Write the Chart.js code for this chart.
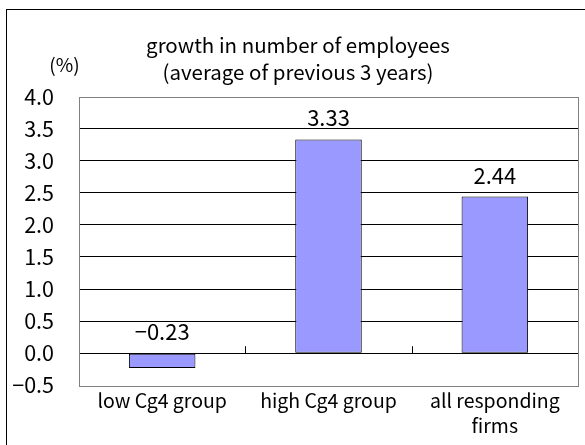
<!DOCTYPE html>
<html>
<head>
<meta charset="utf-8">
<script src="https://cdn.jsdelivr.net/npm/chart.js@4.4.1/dist/chart.umd.min.js"></script>
<style>
  html, body { margin: 0; padding: 0; background: #ffffff; }
  #wrap { width: 585px; height: 445px; }
</style>
</head>
<body>
<div id="wrap"><canvas id="mycanvas" width="585" height="445"></canvas></div>
<script>
// categories and values
var categories = ['low Cg4 group', 'high Cg4 group', ['all responding', 'firms']];
var growthValues = [-0.23, 3.33, 2.44];
var titleLines = ['growth in number of employees', '(average of previous 3 years)'];
var unitLabel = '(%)';
var yMin = -0.5;
var yMax = 4.0;
var yStep = 0.5;

var FONT = '"Noto Sans CJK JP", "Noto Sans", sans-serif';

// minus sign like the original sheet
function fmt(v, digits) {
  var s = Math.abs(v).toFixed(digits);
  return v < 0 ? '\u2212' + s : s;
}

// outer frame, title, plot frame, "(%)" and the value labels
var decorations = {
  id: 'decorations',
  beforeDraw: function(chart) {
    var ctx = chart.ctx;
    ctx.save();
    ctx.fillStyle = '#ffffff';
    ctx.fillRect(0, 0, chart.width, chart.height);
    ctx.strokeStyle = '#000000';
    ctx.lineWidth = 1;
    ctx.strokeRect(6.5, 9.5, chart.width + 20, chart.height + 20);
    ctx.restore();
  },
  afterDatasetsDraw: function(chart) {
    var ctx = chart.ctx;
    var area = chart.chartArea;
    var xs = chart.scales.x;
    var ys = chart.scales.y;
    var y0 = ys.getPixelForValue(0);
    ctx.save();

    // plot frame
    ctx.strokeStyle = '#808080';
    ctx.lineWidth = 1;
    ctx.strokeRect(Math.round(area.left) + 0.5, Math.round(area.top) + 0.5,
      Math.round(area.right - area.left), Math.round(area.bottom - area.top));

    // category tick marks on the zero line
    ctx.strokeStyle = '#000000';
    ctx.beginPath();
    for (var i = 0; i < categories.length - 1; i++) {
      var bx = Math.round((xs.getPixelForValue(i) + xs.getPixelForValue(i + 1)) / 2) + 0.5;
      ctx.moveTo(bx, y0);
      ctx.lineTo(bx, y0 - 7);
    }
    ctx.stroke();

    // value labels
    ctx.fillStyle = '#000000';
    ctx.font = '22px ' + FONT;
    ctx.textAlign = 'center';
    ctx.textBaseline = 'alphabetic';
    var meta = chart.getDatasetMeta(0);
    meta.data.forEach(function(bar, idx) {
      var v = growthValues[idx];
      var top = ys.getPixelForValue(Math.max(v, 0));
      ctx.fillText(fmt(v, 2), bar.x, top - 13);
    });

    // title
    ctx.font = '20.5px ' + FONT;
    ctx.textBaseline = 'middle';
    ctx.fillText(titleLines[0], 298, 45);
    ctx.fillText(titleLines[1], 298, 72);

    // unit label
    ctx.font = '19px ' + FONT;
    ctx.fillText(unitLabel, 64.5, 65);
    ctx.restore();
  }
};

var chartdata = {
  labels: categories,
  datasets: [
    {
      label: 'growth',
      data: growthValues,
      backgroundColor: '#9999ff',
      borderColor: '#000000',
      borderWidth: 1,
      borderSkipped: false,
      barPercentage: 0.4,
      categoryPercentage: 1.0
    }
  ]
};

var ctx = document.getElementById('mycanvas');

var BarGraph = new Chart(ctx, {
  type: 'bar',
  data: chartdata,
  plugins: [decorations],
  options: {
    responsive: false,
    animation: false,
    devicePixelRatio: 1,
    layout: {
      padding: { left: 0, right: 7, top: 96.5, bottom: 0 }
    },
    scales: {
      x: {
        grid: { display: false, drawTicks: false },
        border: { display: false },
        ticks: {
          color: '#000000',
          padding: 3,
          maxRotation: 0,
          autoSkip: false,
          font: { family: FONT, size: 19.5, lineHeight: 1.28 }
        },
        afterFit: function(scale) { scale.height = 59.7; }
      },
      y: {
        min: yMin,
        max: yMax,
        grid: {
          drawTicks: false,
          color: function(c) {
            var v = c.tick ? c.tick.value : null;
            return (v === yMin || v === yMax) ? 'rgba(0,0,0,0)' : '#000000';
          }
        },
        border: { display: false },
        ticks: {
          stepSize: yStep,
          color: '#000000',
          padding: 25,
          font: { family: FONT, size: 21.5 },
          callback: function(value) { return fmt(value, 1); }
        },
        afterFit: function(scale) { scale.width = 79; }
      }
    },
    plugins: {
      title: { display: false },
      legend: { display: false },
      tooltip: { enabled: false }
    }
  }
});
</script>
</body>
</html>
